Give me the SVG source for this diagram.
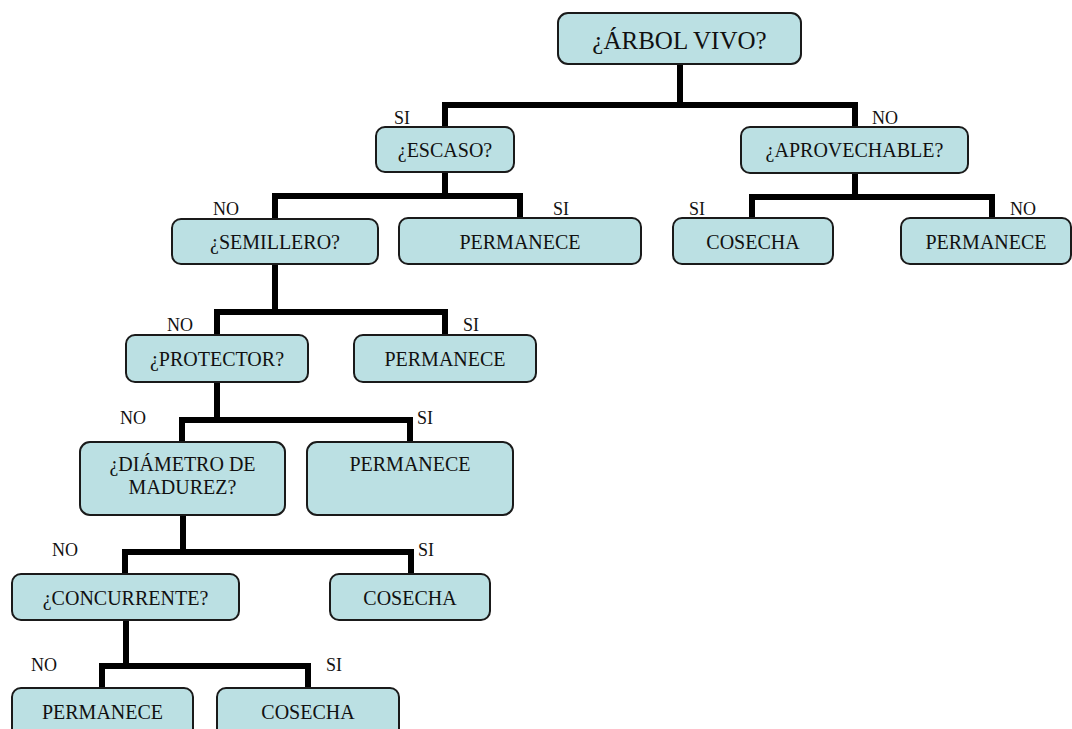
<svg xmlns="http://www.w3.org/2000/svg" width="1072" height="729" viewBox="0 0 1072 729">
  <style>
    .box { fill: #BBE0E3; stroke: #1a1a1a; stroke-width: 2; }
    .t { font-family: "Liberation Serif", "Times New Roman", serif; font-size: 20px; fill: #111; text-anchor: middle; }
    .big { font-size: 25px; }
    .lbl { font-family: "Liberation Serif", "Times New Roman", serif; font-size: 18px; fill: #111; }
    .wire { fill: none; stroke: #000; stroke-width: 6; stroke-linejoin: miter; stroke-linecap: butt; }
  </style>
  <rect width="1072" height="729" fill="#fff"/>

  <!-- tree connectors -->
  <g id="connectors">
    <path class="wire" d="M680 64V105M445 128V105H855V128"/>
    <path class="wire" d="M445 172V196M275 219V196H520V219"/>
    <path class="wire" d="M855 173V197M752 219V197H992V219"/>
    <path class="wire" d="M275 264V312M217 336V312H445V336"/>
    <path class="wire" d="M217 382V420M182 443V420H410V443"/>
    <path class="wire" d="M183 515V552M125 575V552H411V575"/>
    <path class="wire" d="M126 620V666M102 689V666H308V689"/>
  </g>

  <!-- branch labels -->
  <g id="labels">
    <text class="lbl" x="394" y="124">SI</text>
    <text class="lbl" x="872" y="124">NO</text>
    <text class="lbl" x="213" y="215">NO</text>
    <text class="lbl" x="553" y="215">SI</text>
    <text class="lbl" x="689" y="215">SI</text>
    <text class="lbl" x="1010" y="215">NO</text>
    <text class="lbl" x="167" y="331">NO</text>
    <text class="lbl" x="463" y="331">SI</text>
    <text class="lbl" x="120" y="424">NO</text>
    <text class="lbl" x="417" y="424">SI</text>
    <text class="lbl" x="52" y="556">NO</text>
    <text class="lbl" x="418" y="556">SI</text>
    <text class="lbl" x="31" y="671">NO</text>
    <text class="lbl" x="326" y="671">SI</text>
  </g>

  <g id="n-arbol">
    <rect class="box" x="558" y="13" width="243" height="51" rx="10"/>
    <text class="t big" x="679.5" y="49">¿ÁRBOL VIVO?</text>
  </g>
  <g id="n-escaso">
    <rect class="box" x="376" y="127" width="138" height="45" rx="9"/>
    <text class="t" x="445" y="157">¿ESCASO?</text>
  </g>
  <g id="n-aprovechable">
    <rect class="box" x="741" y="127" width="227" height="46" rx="9"/>
    <text class="t" x="854.5" y="157">¿APROVECHABLE?</text>
  </g>
  <g id="n-semillero">
    <rect class="box" x="172" y="219" width="206" height="45" rx="9"/>
    <text class="t" x="275" y="249">¿SEMILLERO?</text>
  </g>
  <g id="n-permanece-1">
    <rect class="box" x="399" y="218" width="242" height="46" rx="9"/>
    <text class="t" x="520" y="249">PERMANECE</text>
  </g>
  <g id="n-cosecha-1">
    <rect class="box" x="673" y="218" width="160" height="46" rx="9"/>
    <text class="t" x="753" y="249">COSECHA</text>
  </g>
  <g id="n-permanece-2">
    <rect class="box" x="901" y="218" width="170" height="46" rx="9"/>
    <text class="t" x="986" y="249">PERMANECE</text>
  </g>
  <g id="n-protector">
    <rect class="box" x="126" y="335" width="182" height="47" rx="9"/>
    <text class="t" x="217" y="366">¿PROTECTOR?</text>
  </g>
  <g id="n-permanece-3">
    <rect class="box" x="354" y="335" width="182" height="47" rx="9"/>
    <text class="t" x="445" y="366">PERMANECE</text>
  </g>
  <g id="n-diametro">
    <rect class="box" x="80" y="442" width="205" height="73" rx="10"/>
    <text class="t" x="182.5" y="471">¿DIÁMETRO DE</text>
    <text class="t" x="182.5" y="494">MADUREZ?</text>
  </g>
  <g id="n-permanece-4">
    <rect class="box" x="307" y="442" width="206" height="73" rx="10"/>
    <text class="t" x="410" y="471">PERMANECE</text>
  </g>
  <g id="n-concurrente">
    <rect class="box" x="12" y="574" width="227" height="46" rx="9"/>
    <text class="t" x="125.5" y="605">¿CONCURRENTE?</text>
  </g>
  <g id="n-cosecha-2">
    <rect class="box" x="330" y="574" width="160" height="46" rx="9"/>
    <text class="t" x="410" y="605">COSECHA</text>
  </g>
  <g id="n-permanece-5">
    <rect class="box" x="12" y="688" width="181" height="56" rx="9"/>
    <text class="t" x="102.5" y="719">PERMANECE</text>
  </g>
  <g id="n-cosecha-3">
    <rect class="box" x="217" y="688" width="182" height="56" rx="9"/>
    <text class="t" x="308" y="719">COSECHA</text>
  </g>
</svg>
